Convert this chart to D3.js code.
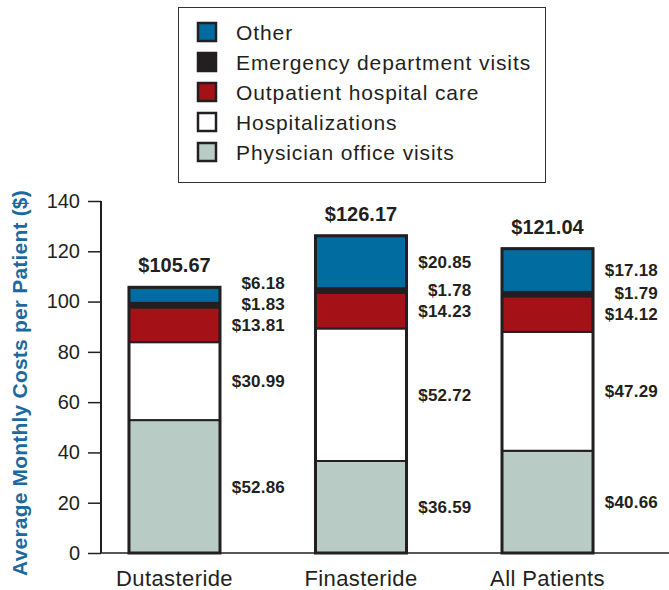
<!DOCTYPE html>
<html><head><meta charset="utf-8">
<script src="https://cdn.jsdelivr.net/npm/d3@7"></script>
<style>body{margin:0;background:#fff}svg{display:block;font-family:"Liberation Sans",Arial,sans-serif}</style>
</head><body>
<svg id="c" width="669" height="590"></svg>
<script>
const categories = ["Dutasteride", "Finasteride", "All Patients"];
const seriesNames = ["Physician office visits", "Hospitalizations", "Outpatient hospital care", "Emergency department visits", "Other"];
const physician = [52.86, 36.59, 40.66];
const hospitalizations = [30.99, 52.72, 47.29];
const outpatient = [13.81, 14.23, 14.12];
const emergency = [1.83, 1.78, 1.79];
const other = [6.18, 20.85, 17.18];
const totals = [105.67, 126.17, 121.04];
const yTicks = [0, 20, 40, 60, 80, 100, 120, 140];
const colors = ["#b9cbc5", "#ffffff", "#a41117", "#231f20", "#006c9f"];
const series = [physician, hospitalizations, outpatient, emergency, other];

const svg = d3.select("#c");
const y = d3.scaleLinear().domain([0, 140]).range([553, 201]);
const x = d3.scaleBand().domain(categories).range([101, 621]).paddingInner(0.512).paddingOuter(0.15);

// axes
const yAxis = svg.append("g").attr("transform", "translate(101,0)")
  .call(d3.axisLeft(y).tickValues(yTicks).tickSize(13).tickPadding(8));
yAxis.select(".domain").remove();
yAxis.selectAll(".tick line").attr("stroke", "#231f20").attr("stroke-width", 1.5);
yAxis.selectAll(".tick text").attr("font-size", 20).attr("fill", "#231f20").attr("font-family", "Liberation Sans, Arial, sans-serif");
svg.append("line").attr("x1", 101).attr("x2", 101).attr("y1", y(140)).attr("y2", y(0)).attr("stroke", "#231f20").attr("stroke-width", 2);
svg.append("line").attr("x1", 101).attr("x2", 669).attr("y1", y(0)).attr("y2", y(0)).attr("stroke", "#231f20").attr("stroke-width", 1.5);

svg.append("text").attr("transform", `translate(27,${(y(0)+y(140))/2 + 6}) rotate(-90)`)
  .attr("text-anchor", "middle").attr("font-size", 21).attr("font-weight", "bold").attr("fill", "#1a6aa0")
  .attr("letter-spacing", 0.2)
  .text("Average Monthly Costs per Patient ($)");

// bars
const stackData = categories.map((c, i) => {
  let acc = 0;
  return series.map((s, k) => { const y0 = acc; acc += s[i]; return {cat: c, k, v: s[i], y0, y1: acc}; });
});
const bw = x.bandwidth();
stackData.forEach((segs, i) => {
  const g = svg.append("g");
  g.selectAll("rect.seg").data(segs).join("rect")
    .attr("x", x(categories[i])).attr("width", bw)
    .attr("y", d => y(d.y1)).attr("height", d => y(d.y0) - y(d.y1))
    .attr("fill", d => colors[d.k]).attr("stroke", "#231f20").attr("stroke-width", 2);
  g.append("rect").attr("x", x(categories[i])).attr("width", bw)
    .attr("y", y(totals[i])).attr("height", y(0) - y(totals[i]))
    .attr("fill", "none").attr("stroke", "#231f20").attr("stroke-width", 3);
  g.append("text").attr("x", x(categories[i]) + bw / 2).attr("y", y(totals[i]) - 15)
    .attr("text-anchor", "middle").attr("font-size", 20).attr("font-weight", "bold").attr("fill", "#231f20")
    .text("$" + totals[i].toFixed(2));
  // value labels with simple bottom-up collision avoidance
  let prev = Infinity;
  segs.forEach(d => {
    let py = (y(d.y0) + y(d.y1)) / 2 + 6;
    if (py > prev - 21) py = prev - 21;
    prev = py;
    g.append("text").attr("x", x(categories[i]) + bw + 65).attr("y", py)
      .attr("text-anchor", "end").attr("font-size", 17).attr("font-weight", "bold").attr("fill", "#231f20")
      .attr("letter-spacing", 0.2)
      .text("$" + d.v.toFixed(2));
  });
  svg.append("text").attr("x", x(categories[i]) + bw / 2).attr("y", 586)
    .attr("text-anchor", "middle").attr("font-size", 22).attr("fill", "#231f20")
    .attr("letter-spacing", 0.4).text(categories[i]);
});

// legend
const lg = svg.append("g");
lg.append("rect").attr("x", 178.5).attr("y", 7.5).attr("width", 367).attr("height", 175)
  .attr("fill", "#fff").attr("stroke", "#333").attr("stroke-width", 1);
const legendOrder = [4, 3, 2, 1, 0];
legendOrder.forEach((k, r) => {
  const cy = 32 + r * 30;
  lg.append("rect").attr("x", 198).attr("y", cy - 9).attr("width", 18).attr("height", 18)
    .attr("fill", colors[k]).attr("stroke", "#231f20").attr("stroke-width", 2.5);
  lg.append("text").attr("x", 236).attr("y", cy + 7.5).attr("font-size", 21).attr("fill", "#231f20")
    .attr("letter-spacing", 0.9).text(seriesNames[k]);
});
</script>
</body></html>
